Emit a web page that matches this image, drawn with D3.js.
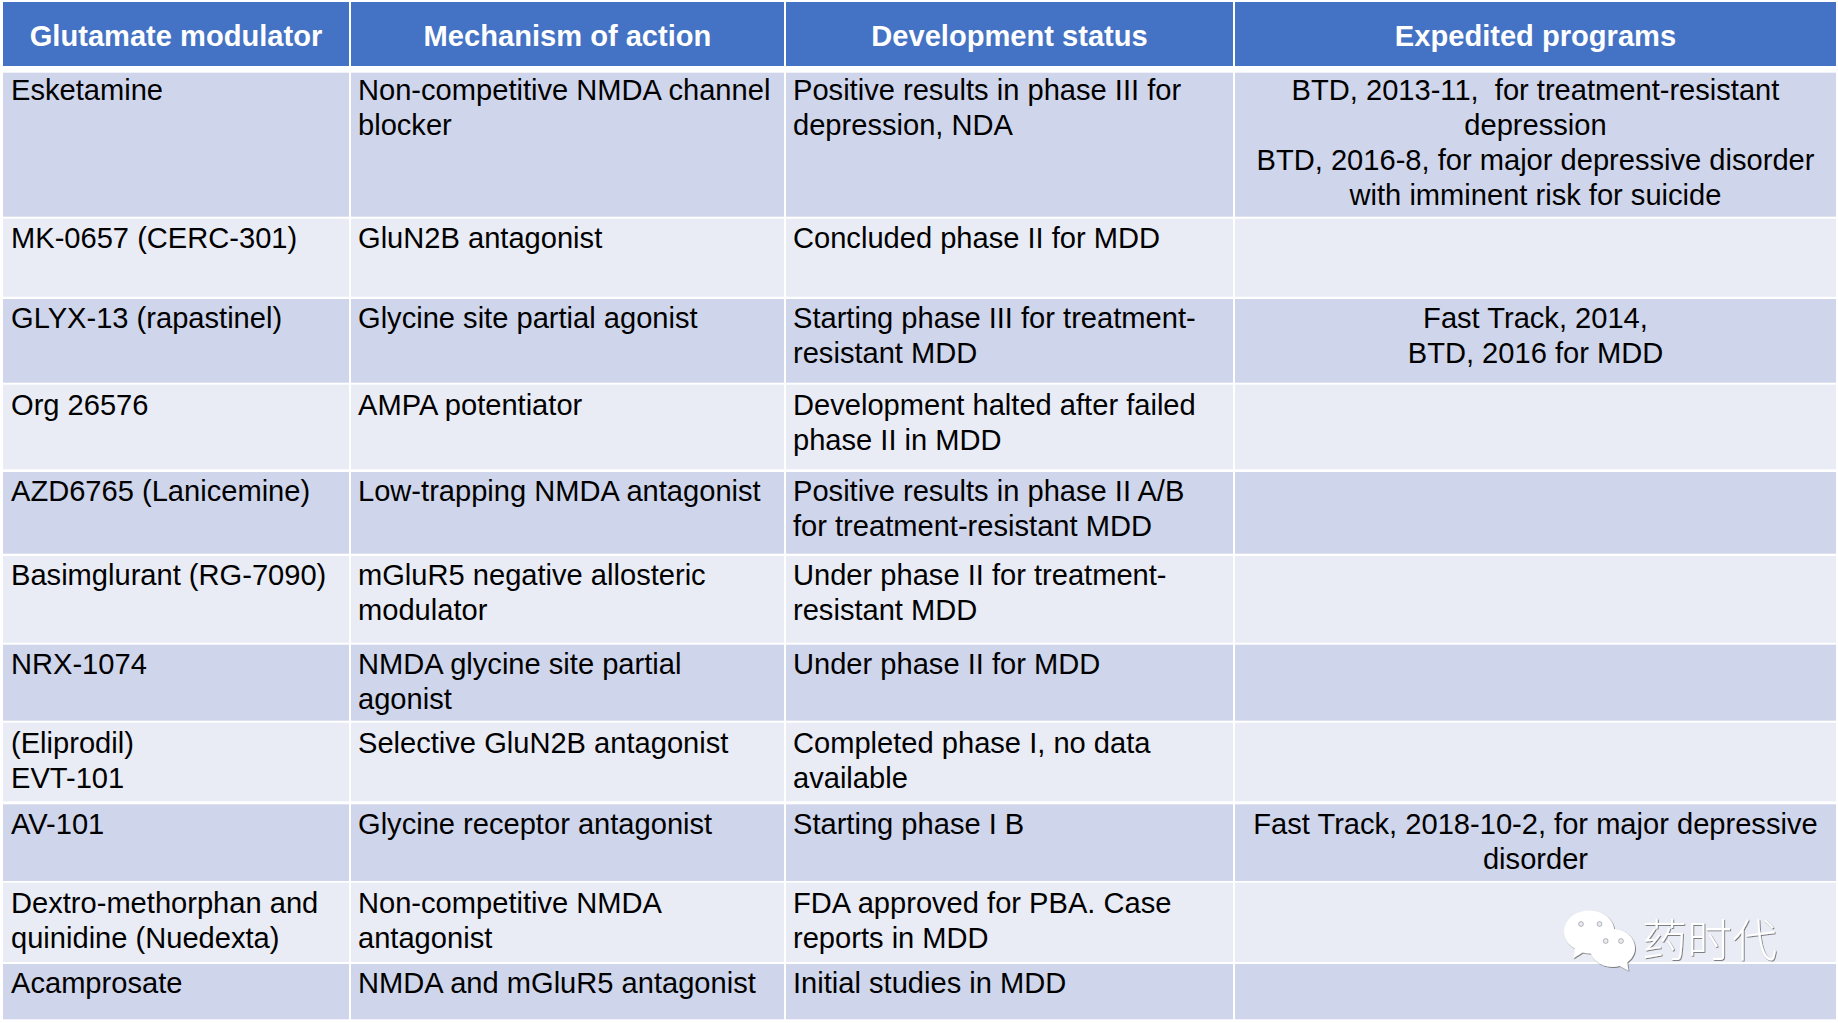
<!DOCTYPE html>
<html>
<head>
  <title>Glutamate modulators</title>
  <meta charset="utf-8">
  <script src="https://d3js.org/d3.v7.min.js"></script>
  <style>
    body { margin: 0; background: #fff; }
    svg { display: block; }
    text { font-family: "Liberation Sans", Arial, sans-serif; white-space: pre; }
    .mark { font-family: "Noto Sans CJK SC", sans-serif; font-weight: 300; }
  </style>
</head>
<body>
  <svg id="table" width="1838" height="1023"></svg>
  <script charset="utf-8">

    var lineHeight = 35,
        fontSize = 29.1;

    // column edges, with the text anchor of every column
    var columns = [
      { x0: 3,    x1: 349,  textX: 11,   title: "Glutamate modulator" },
      { x0: 351,  x1: 784,  textX: 358,  title: "Mechanism of action" },
      { x0: 786,  x1: 1233, textX: 793,  title: "Development status" },
      { x0: 1235, x1: 1836, textX: 1535.5, title: "Expedited programs", centered: true }
    ];

    // row edges and first baseline, then the lines of each cell
    var rows = [
      { y0: 72.7, y1: 216.7, base: 100, cells: [
        ["Esketamine"],
        ["Non-competitive NMDA channel", "blocker"],
        ["Positive results in phase III for", "depression, NDA"],
        ["BTD, 2013-11,  for treatment-resistant", "depression", "BTD, 2016-8, for major depressive disorder", "with imminent risk for suicide"]
      ]},
      { y0: 218.7, y1: 296.7, base: 248, cells: [
        ["MK-0657 (CERC-301)"],
        ["GluN2B antagonist"],
        ["Concluded phase II for MDD"],
        []
      ]},
      { y0: 299, y1: 382.7, base: 327.5, cells: [
        ["GLYX-13 (rapastinel)"],
        ["Glycine site partial agonist"],
        ["Starting phase III for treatment-", "resistant MDD"],
        ["Fast Track, 2014,", "BTD, 2016 for MDD"]
      ]},
      { y0: 384.7, y1: 469.3, base: 415, cells: [
        ["Org 26576"],
        ["AMPA potentiator"],
        ["Development halted after failed", "phase II in MDD"],
        []
      ]},
      { y0: 472, y1: 553.7, base: 501, cells: [
        ["AZD6765 (Lanicemine)"],
        ["Low-trapping NMDA antagonist"],
        ["Positive results in phase II A/B", "for treatment-resistant MDD"],
        []
      ]},
      { y0: 556, y1: 642.7, base: 585, cells: [
        ["Basimglurant (RG-7090)"],
        ["mGluR5 negative allosteric", "modulator"],
        ["Under phase II for treatment-", "resistant MDD"],
        []
      ]},
      { y0: 644.7, y1: 720.7, base: 674, cells: [
        ["NRX-1074"],
        ["NMDA glycine site partial", "agonist"],
        ["Under phase II for MDD"],
        []
      ]},
      { y0: 722.7, y1: 801.3, base: 752.5, cells: [
        ["(Eliprodil)", "EVT-101"],
        ["Selective GluN2B antagonist"],
        ["Completed phase I, no data", "available"],
        []
      ]},
      { y0: 804.3, y1: 881, base: 834, cells: [
        ["AV-101"],
        ["Glycine receptor antagonist"],
        ["Starting phase I B"],
        ["Fast Track, 2018-10-2, for major depressive", "disorder"]
      ]},
      { y0: 882.7, y1: 962, base: 912.5, cells: [
        ["Dextro-methorphan and", "quinidine (Nuedexta)"],
        ["Non-competitive NMDA", "antagonist"],
        ["FDA approved for PBA. Case", "reports in MDD"],
        []
      ]},
      { y0: 964, y1: 1019.3, base: 993, cells: [
        ["Acamprosate"],
        ["NMDA and mGluR5 antagonist"],
        ["Initial studies in MDD"],
        []
      ]}
    ];

    var svg = d3.select("#table");

    // header
    var header = svg.append("g");

    header.selectAll("rect")
        .data(columns).enter()
      .append("rect")
        .attr("x", function(d) { return d.x0; })
        .attr("y", 2)
        .attr("width", function(d) { return d.x1 - d.x0; })
        .attr("height", 64)
        .attr("fill", "#4472c4");

    header.selectAll("text")
        .data(columns).enter()
      .append("text")
        .attr("x", function(d) { return (d.x0 + d.x1) / 2; })
        .attr("y", 46)
        .attr("text-anchor", "middle")
        .attr("fill", "#fff")
        .attr("font-weight", "bold")
        .attr("font-size", fontSize)
        .text(function(d) { return d.title; });

    // body
    var row = svg.selectAll("g.row")
        .data(rows).enter()
      .append("g")
        .attr("class", "row");

    row.selectAll("rect")
        .data(function(d, i) {
          return columns.map(function(c) { return { c: c, r: d, odd: i % 2 === 0 }; });
        }).enter()
      .append("rect")
        .attr("x", function(d) { return d.c.x0; })
        .attr("y", function(d) { return d.r.y0; })
        .attr("width", function(d) { return d.c.x1 - d.c.x0; })
        .attr("height", function(d) { return d.r.y1 - d.r.y0; })
        .attr("fill", function(d) { return d.odd ? "#cfd5ea" : "#e9ebf5"; });

    row.selectAll("text")
        .data(function(d) {
          var lines = [];
          d.cells.forEach(function(cell, j) {
            cell.forEach(function(line, k) {
              lines.push({ text: line, c: columns[j], y: d.base + k * lineHeight });
            });
          });
          return lines;
        }).enter()
      .append("text")
        .attr("x", function(d) { return d.c.textX; })
        .attr("y", function(d) { return d.y; })
        .attr("text-anchor", function(d) { return d.c.centered ? "middle" : "start"; })
        .attr("fill", "#000")
        .attr("font-size", fontSize)
        .text(function(d) { return d.text; });

    // watermark
    var defs = svg.append("defs");
    var shadow = defs.append("filter").attr("id", "emboss");
    shadow.append("feDropShadow")
        .attr("dx", 0.8).attr("dy", 0.8)
        .attr("stdDeviation", 0.5)
        .attr("flood-color", "#555")
        .attr("flood-opacity", 0.9);

    var mark = svg.append("g").attr("filter", "url(#emboss)");

    mark.append("path")
        .attr("d", "M1590 910.5c13.5 0 24.5 9.500 24.500 21.500c0 12-11 21.500-24.500 21.500c-2.500 0-5-.3-7.300-.9l-9.500 5.900 1.700-10c-6.800-3.900-10.900-9.500-10.900-16.500c0-12 11-21.500 25-21.500z")
        .attr("fill", "#fff");
    mark.append("path")
        .attr("d", "M1612.500 929c12.500 0 22.500 8.500 22.500 19c0 5.800-3 11-7.800 14.500l1.300 8.200-8.800-4.700c-2.300.6-4.700.9-7.200.9c-12.500 0-22.500-8.500-22.500-18.900c0-10.500 10-19 22.500-19z")
        .attr("fill", "#fff");

    mark.selectAll("circle")
        .data([[1581, 924], [1599.500, 924], [1605.700, 941], [1621, 941]]).enter()
      .append("circle")
        .attr("cx", function(d) { return d[0]; })
        .attr("cy", function(d) { return d[1]; })
        .attr("r", 2.4)
        .attr("fill", "#e9ebf5")
        .attr("stroke", "#888")
        .attr("stroke-width", 0.6);

    mark.append("text")
        .attr("class", "mark")
        .attr("x", 1642)
        .attr("y", 957)
        .attr("fill", "#fff")
        .attr("font-size", 45)
        .text("药时代");

  </script>
</body>
</html>
